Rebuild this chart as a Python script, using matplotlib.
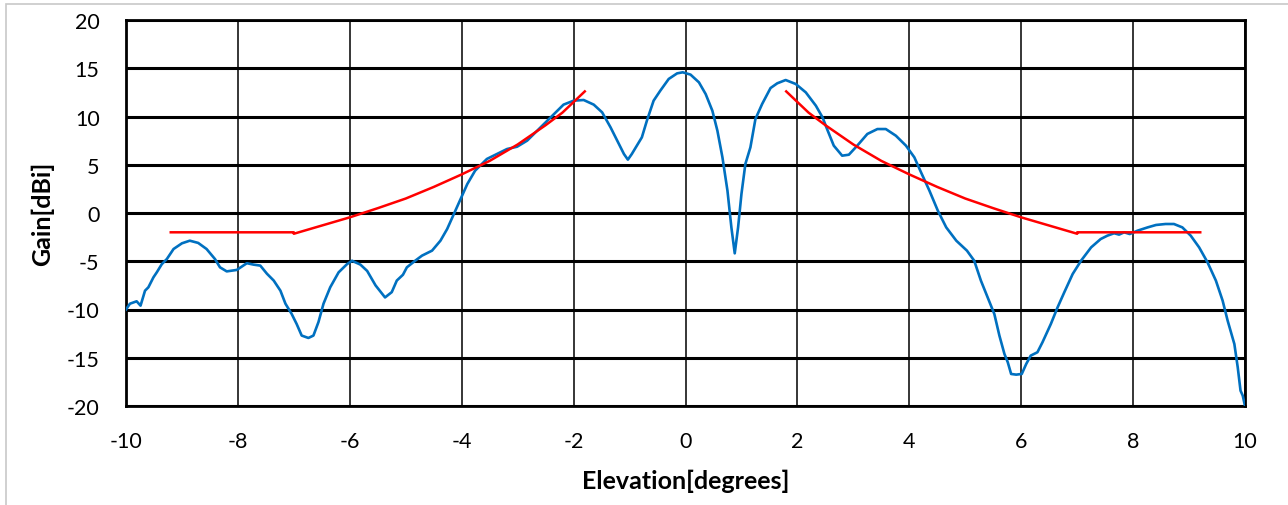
import matplotlib.pyplot as plt
from matplotlib.patches import Rectangle

elev = [-10.0, -9.93, -9.81, -9.74, -9.66, -9.6, -9.51, -9.45, -9.36, -9.27,
        -9.15, -9.0, -8.86, -8.71, -8.56, -8.41, -8.32, -8.2, -8.02, -7.84,
        -7.72, -7.6, -7.48, -7.36, -7.24, -7.15, -7.04, -6.95, -6.86, -6.74,
        -6.65, -6.56, -6.47, -6.35, -6.2, -6.05, -5.96, -5.81, -5.69, -5.54,
        -5.37, -5.25, -5.16, -5.05, -4.98, -4.83, -4.71, -4.53, -4.38, -4.26,
        -4.14, -4.02, -3.9, -3.76, -3.55, -3.37, -3.19, -3.01, -2.83, -2.65,
        -2.5, -2.35, -2.18, -2.0, -1.82, -1.64, -1.49, -1.34, -1.22, -1.1,
        -1.03, -0.96, -0.87, -0.78, -0.69, -0.57, -0.45, -0.3, -0.15, -0.05,
        0.09, 0.24, 0.36, 0.48, 0.57, 0.66, 0.75, 0.82, 0.88, 0.94,
        1.0, 1.07, 1.16, 1.25, 1.37, 1.52, 1.64, 1.79, 1.97, 2.15,
        2.33, 2.45, 2.53, 2.65, 2.8, 2.92, 3.07, 3.25, 3.43, 3.58,
        3.76, 3.94, 4.09, 4.21, 4.36, 4.51, 4.66, 4.84, 5.03, 5.16,
        5.28, 5.4, 5.52, 5.61, 5.7, 5.76, 5.82, 5.91, 6.01, 6.09,
        6.17, 6.29, 6.38, 6.53, 6.65, 6.77, 6.92, 7.07, 7.25, 7.42,
        7.54, 7.66, 7.75, 7.84, 7.94, 8.08, 8.26, 8.41, 8.58, 8.73,
        8.88, 9.03, 9.18, 9.33, 9.48, 9.6, 9.69, 9.81, 9.87, 9.92,
        9.96, 10.0]
gain = [-10.0, -9.4, -9.15, -9.6, -8.05, -7.7, -6.67, -6.15, -5.3, -4.77,
        -3.73, -3.14, -2.87, -3.1, -3.73, -4.77, -5.63, -6.05, -5.9, -5.2,
        -5.35, -5.45, -6.3, -7.0, -8.05, -9.4, -10.45, -11.5, -12.7, -12.95,
        -12.7, -11.3, -9.4, -7.7, -6.15, -5.3, -4.95, -5.35, -6.0, -7.5,
        -8.75, -8.2, -7.0, -6.4, -5.63, -4.94, -4.42, -3.9, -2.87, -1.66,
        -0.1, 1.45, 3.0, 4.39, 5.6, 6.11, 6.63, 6.87, 7.5, 8.53,
        9.4, 10.26, 11.23, 11.64, 11.71, 11.23, 10.43, 8.88, 7.5, 6.11,
        5.53, 6.11, 6.98, 7.84, 9.57, 11.64, 12.68, 13.89, 14.47, 14.58,
        14.34, 13.54, 12.33, 10.6, 8.53, 5.77, 2.31, -1.49, -4.18, -1.49,
        1.97, 5.08, 6.8, 9.74, 11.3, 12.95, 13.44, 13.78, 13.37, 12.5,
        11.12, 9.9, 8.7, 6.98, 5.94, 6.04, 6.98, 8.19, 8.7, 8.7,
        8.01, 6.98, 5.77, 4.21, 2.31, 0.24, -1.49, -2.87, -3.9, -4.94,
        -7.01, -8.74, -10.47, -12.7, -14.6, -15.47, -16.68, -16.75, -16.68, -15.64,
        -14.78, -14.43, -13.4, -11.5, -9.78, -8.22, -6.32, -4.94, -3.56, -2.7,
        -2.35, -2.1, -2.24, -2.0, -2.18, -1.83, -1.49, -1.24, -1.14, -1.14,
        -1.49, -2.35, -3.56, -5.11, -7.01, -9.08, -11.16, -13.58, -15.99, -18.41,
        -18.93, -20.0]

# envelope mask (red)
mask_left_x = [-9.2, -7.0, -7.0, -6.5, -6.0, -5.5, -5.0, -4.5, -4.0, -3.5, -3.0, -2.5, -2.2, -1.8]
mask_left_y = [-2.0, -2.0, -2.15, -1.3, -0.45, 0.5, 1.5, 2.7, 4.0, 5.4, 7.1, 9.1, 10.4, 12.6]
mask_right_x = [1.8, 2.2, 2.5, 3.0, 3.5, 4.0, 4.5, 5.0, 5.5, 6.0, 6.5, 7.0, 7.0, 9.2]
mask_right_y = [12.6, 10.4, 9.1, 7.1, 5.4, 4.0, 2.7, 1.5, 0.5, -0.45, -1.3, -2.15, -2.0, -2.0]

x_ticks = list(range(-10, 11, 2))
y_ticks = list(range(-20, 21, 5))

plt.rcParams['font.family'] = ['Lato', 'DejaVu Sans']
plt.rcParams['axes.unicode_minus'] = False

fig = plt.figure(figsize=(12.88, 5.06), dpi=100)
fig.patches.append(Rectangle((6 / 1288, -0.01), 1.0, 1 - 5 / 506 + 0.01,
                             transform=fig.transFigure, fill=False,
                             edgecolor='#c8c8c8', linewidth=1.2))
ax = fig.add_axes([126 / 1288, 1 - 407 / 506, (1245 - 126) / 1288, (407 - 21) / 506])

ax.plot(elev, gain, color='#0070C0', linewidth=1.9, zorder=3)
ax.plot(mask_left_x, mask_left_y, color='#FF0000', linewidth=1.8, zorder=4)
ax.plot(mask_right_x, mask_right_y, color='#FF0000', linewidth=1.8, zorder=4)

ax.set_xlim(-10, 10)
ax.set_ylim(-20, 20)
ax.set_xticks(x_ticks)
ax.set_yticks(y_ticks)
ax.tick_params(length=0, labelsize=15.5)
ax.tick_params(axis='y', pad=19)
ax.tick_params(axis='x', pad=18)

ax.xaxis.grid(True, color='black', linewidth=1.1)
ax.yaxis.grid(True, color='black', linewidth=2.2)
ax.set_axisbelow(True)
for side in ['top', 'bottom', 'left', 'right']:
    ax.spines[side].set_color('black')
    ax.spines[side].set_linewidth(2.0)

ax.set_xlabel('Elevation[degrees]', fontsize=18, fontweight='bold', labelpad=13)
ax.set_ylabel('Gain[dBi]', fontsize=18, fontweight='bold', labelpad=9)

fig.savefig('out.png', dpi=100)
